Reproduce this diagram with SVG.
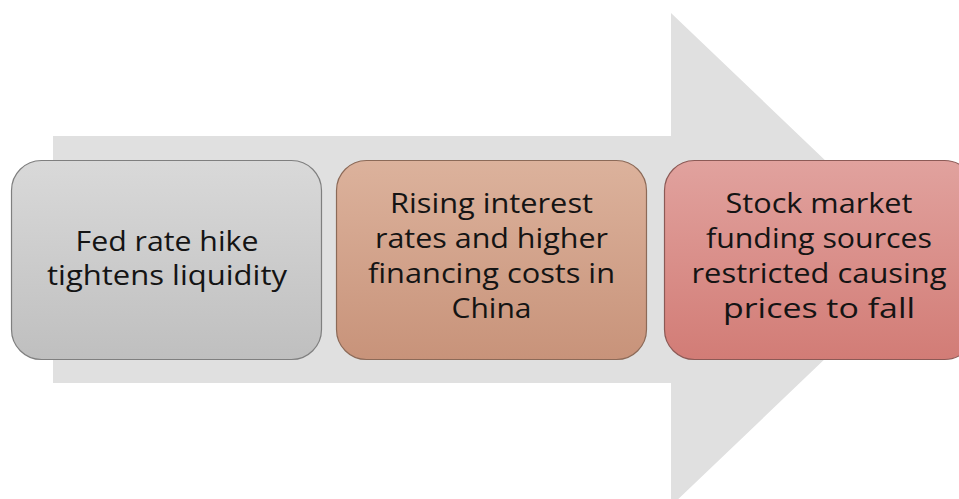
<svg xmlns="http://www.w3.org/2000/svg" width="959" height="499" viewBox="0 0 959 499">
  <defs>
    <linearGradient id="gGray" x1="0" y1="0" x2="0" y2="1">
      <stop offset="0" stop-color="#d9d9d9"/>
      <stop offset="1" stop-color="#bfbfbf"/>
    </linearGradient>
    <linearGradient id="gOrange" x1="0" y1="0" x2="0" y2="1">
      <stop offset="0" stop-color="#dcb29c"/>
      <stop offset="1" stop-color="#c8937a"/>
    </linearGradient>
    <linearGradient id="gRed" x1="0" y1="0" x2="0" y2="1">
      <stop offset="0" stop-color="#e1a29e"/>
      <stop offset="1" stop-color="#d27c76"/>
    </linearGradient>
  </defs>
  <style>
    .box { stroke-width: 1.2; }
    .lbl { font-family: "Open Sans", "Liberation Sans", sans-serif; font-size: 28px; fill: #141414; text-anchor: middle; }
  </style>
  <rect width="959" height="499" fill="#ffffff"/>
  <g id="arrow">
    <polygon points="53,136 671,136 671,13 929,259.5 671,506 671,383 53,383" fill="#e0e0e0"/>
  </g>
  <g id="connectors"></g>
  <g id="node1">
    <rect class="box" x="11.5" y="160.5" width="310" height="199" rx="30" fill="url(#gGray)" stroke="#7f7f7f"/>
    <text class="lbl" x="167" y="250.5" textLength="183" lengthAdjust="spacingAndGlyphs">Fed rate hike</text>
    <text class="lbl" x="167" y="285" textLength="240" lengthAdjust="spacingAndGlyphs">tightens liquidity</text>
  </g>
  <g id="node2">
    <rect class="box" x="336.5" y="160.5" width="310" height="199" rx="30" fill="url(#gOrange)" stroke="#8c6a58"/>
    <text class="lbl" x="491.5" y="213" textLength="203" lengthAdjust="spacingAndGlyphs">Rising interest</text>
    <text class="lbl" x="491.5" y="248" textLength="233" lengthAdjust="spacingAndGlyphs">rates and higher</text>
    <text class="lbl" x="491.5" y="283" textLength="247" lengthAdjust="spacingAndGlyphs">financing costs in</text>
    <text class="lbl" x="491.5" y="318" textLength="80" lengthAdjust="spacingAndGlyphs">China</text>
  </g>
  <g id="node3">
    <rect class="box" x="664.5" y="160.5" width="310" height="199" rx="30" fill="url(#gRed)" stroke="#8c5a56"/>
    <text class="lbl" x="819" y="213" textLength="187" lengthAdjust="spacingAndGlyphs">Stock market</text>
    <text class="lbl" x="819" y="248" textLength="226" lengthAdjust="spacingAndGlyphs">funding sources</text>
    <text class="lbl" x="819" y="283" textLength="255" lengthAdjust="spacingAndGlyphs">restricted causing</text>
    <text class="lbl" x="819" y="318" textLength="192" lengthAdjust="spacingAndGlyphs">prices to fall</text>
  </g>
</svg>
